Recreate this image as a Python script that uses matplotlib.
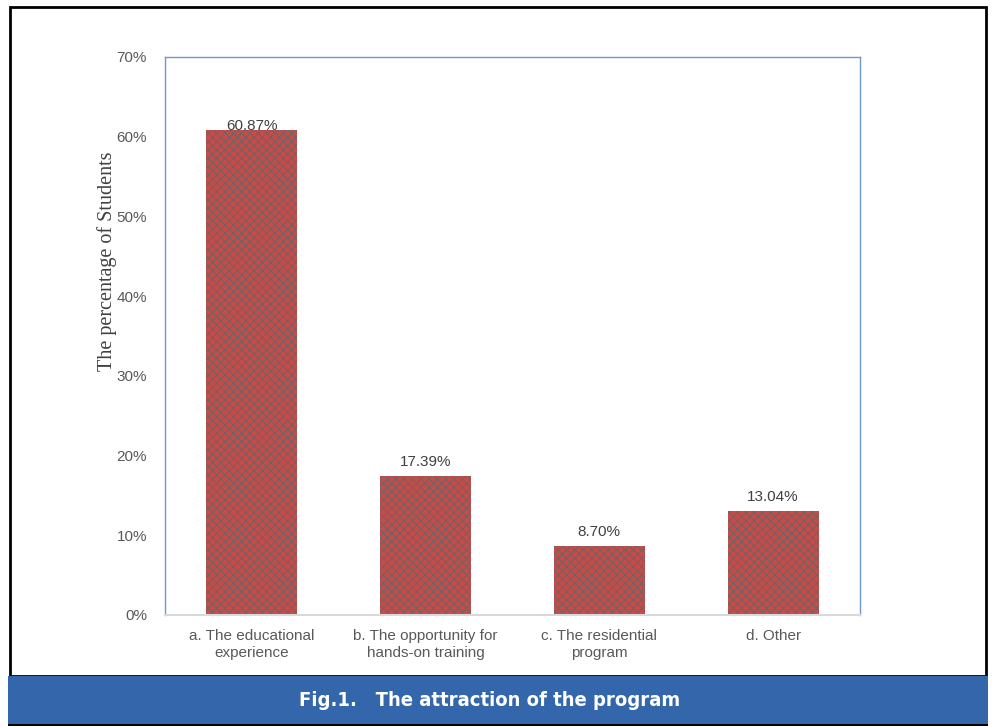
import matplotlib
matplotlib.use("Agg")
import matplotlib.pyplot as plt
from matplotlib.patches import Rectangle

categories = ["a. The educational\nexperience", "b. The opportunity for\nhands-on training",
              "c. The residential\nprogram", "d. Other"]
percentages = [60.87, 17.39, 8.70, 13.04]
bar_labels = ["60.87%", "17.39%", "8.70%", "13.04%"]
y_ticks = [0, 10, 20, 30, 40, 50, 60, 70]

plt.rcParams["hatch.linewidth"] = 0.6

fig = plt.figure(figsize=(9.92, 7.27), dpi=100)
ax = fig.add_axes([165 / 992, 1 - 615 / 727, 695 / 992, 558 / 727])

x = list(range(len(categories)))
bars = ax.bar(x, percentages, width=0.524, color="#c44c4a", edgecolor="#666666",
              hatch="xxxx", linewidth=0)
for i, (b, lab) in enumerate(zip(bars, bar_labels)):
    # the tallest label sits on the bar top in the original
    dy = -2 if i == 0 else 5
    ax.annotate(lab, (b.get_x() + b.get_width() / 2, b.get_height()),
                xytext=(0, dy), textcoords="offset points",
                ha="center", va="bottom", fontsize=11, color="#404040",
                family="Liberation Sans")

ax.set_xlim(-0.5, 3.5)
ax.set_ylim(0, 70)
ax.set_yticks(y_ticks)
ax.set_yticklabels([f"{t}%" for t in y_ticks], family="Liberation Sans",
                   fontsize=11, color="#595959")
ax.set_xticks(x)
ax.set_xticklabels(categories, family="Liberation Sans", fontsize=11,
                   color="#595959", linespacing=1.3)
ax.tick_params(axis="x", length=0, pad=10)
ax.tick_params(axis="y", length=0, pad=13)
ax.set_ylabel("The percentage of Students", family="Liberation Serif",
              fontsize=14.5, color="#404040")
ax.yaxis.set_label_coords(-0.069, 0.634)

for side in ["left", "top", "right"]:
    ax.spines[side].set_color("#6f98cc")
    ax.spines[side].set_linewidth(1.0)
ax.spines["bottom"].set_color("#d9d9d9")
ax.spines["bottom"].set_linewidth(1.5)

# outer frame and caption band
fig.patches.append(Rectangle((9.5 / 992, 1 - 676 / 727), 976 / 992, 669 / 727,
                             transform=fig.transFigure, fill=False,
                             edgecolor="black", linewidth=2))
fig.patches.append(Rectangle((8 / 992, 1 - 724 / 727), 980 / 992, 48 / 727,
                             transform=fig.transFigure, facecolor="#3366aa",
                             edgecolor="none"))
fig.patches.append(Rectangle((8 / 992, 1 - 726 / 727), 980 / 992, 2 / 727,
                             transform=fig.transFigure, facecolor="black",
                             edgecolor="none"))
fig.text(490 / 992, 1 - 701 / 727, "Fig.1.   The attraction of the program",
         ha="center", va="center", color="white", fontsize=14.5, fontweight="bold",
         fontstretch="condensed", family=["DejaVu Sans"])

fig.savefig("out.png", dpi=100)
plt.close(fig)
